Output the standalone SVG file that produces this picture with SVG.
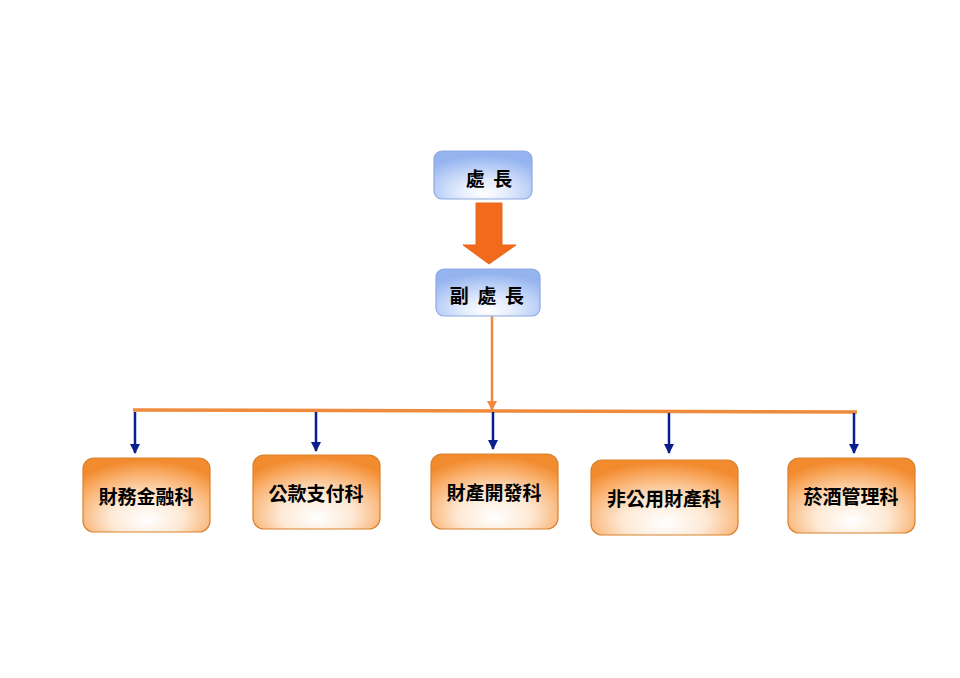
<svg xmlns="http://www.w3.org/2000/svg" width="960" height="678" viewBox="0 0 960 678">
<defs>
<radialGradient id="og" cx="0.5" cy="0.75" r="0.72" fx="0.5" fy="0.85">
<stop offset="0" stop-color="#ffffff"/>
<stop offset="0.4" stop-color="#fde9d4"/>
<stop offset="0.8" stop-color="#f9ab64"/>
<stop offset="1" stop-color="#f28a2e"/>
</radialGradient>
<radialGradient id="bg" cx="0.5" cy="0.8" r="0.7" fx="0.5" fy="0.9">
<stop offset="0" stop-color="#ffffff"/>
<stop offset="0.35" stop-color="#e3ecfc"/>
<stop offset="0.8" stop-color="#aec6f5"/>
<stop offset="1" stop-color="#95b4ef"/>
</radialGradient>
<marker id="ba" markerWidth="10" markerHeight="10" refX="9" refY="5" orient="auto" markerUnits="userSpaceOnUse">
<path d="M0,0 L10,5 L0,10 Z" fill="#0b1f8c"/>
</marker>
<marker id="oa" markerWidth="10" markerHeight="10" refX="9" refY="5" orient="auto" markerUnits="userSpaceOnUse">
<path d="M0,0 L10,5 L0,10 Z" fill="#ef8a3c"/>
</marker>
</defs>
<style>
.ob{fill:url(#og);stroke:#d9822e;stroke-width:1.2}
.bb{fill:url(#bg);stroke:#8fa9e0;stroke-width:1.2}
.t{font-family:"Noto Sans CJK TC","Noto Sans CJK SC",sans-serif;font-weight:bold;font-size:19px;fill:#000;text-anchor:middle;dominant-baseline:central}
.bl{stroke:#0b1f8c;stroke-width:2.5;fill:none;marker-end:url(#ba)}
</style>
<rect width="960" height="678" fill="#fff"/>
<g id="connectors">
<path d="M476,203 H502 V245 H516 L489,264 L463,245 H476 Z" fill="#f26a1b" stroke="#e8661c" stroke-width="1"/>
<line x1="492" y1="316" x2="492" y2="410" stroke="#ef8a3c" stroke-width="2.5" marker-end="url(#oa)"/>
<line x1="133" y1="410" x2="857" y2="412" stroke="#ef8a3c" stroke-width="3.5"/>
<line class="bl" x1="135" y1="412" x2="135" y2="453"/>
<line class="bl" x1="316" y1="412" x2="316" y2="451"/>
<line class="bl" x1="493" y1="412" x2="493" y2="449"/>
<line class="bl" x1="669" y1="413" x2="669" y2="453"/>
<line class="bl" x1="854" y1="413" x2="854" y2="453"/>
</g>
<g id="n1"><rect class="bb" x="434" y="151" width="98" height="48" rx="8"/><text class="t" x="489" y="177" xml:space="preserve">處  長</text></g>
<g id="n2"><rect class="bb" x="436" y="269" width="104" height="47" rx="8"/><text class="t" x="487" y="294" xml:space="preserve">副  處  長</text></g>
<g id="n3"><rect class="ob" x="83" y="458" width="127" height="74" rx="11"/><text class="t" x="146" y="495">財務金融科</text></g>
<g id="n4"><rect class="ob" x="253" y="455" width="127" height="74" rx="11"/><text class="t" x="316" y="492">公款支付科</text></g>
<g id="n5"><rect class="ob" x="431" y="454" width="127" height="75" rx="11"/><text class="t" x="494" y="491">財產開發科</text></g>
<g id="n6"><rect class="ob" x="591" y="460" width="147" height="75" rx="11"/><text class="t" x="664" y="497">非公用財產科</text></g>
<g id="n7"><rect class="ob" x="788" y="458" width="127" height="75" rx="11"/><text class="t" x="851" y="495">菸酒管理科</text></g>
</svg>
